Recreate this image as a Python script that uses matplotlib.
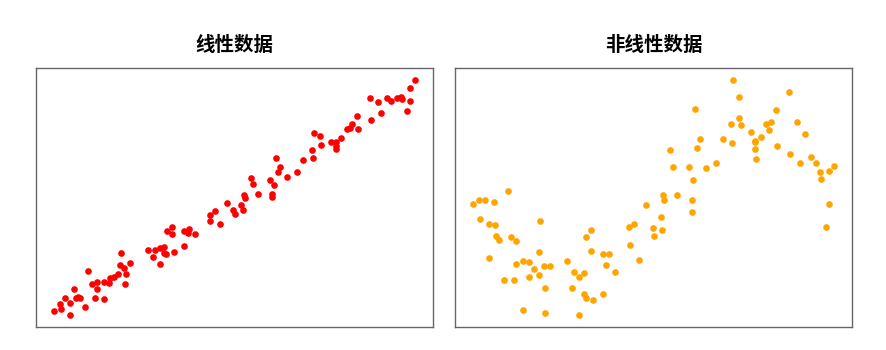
import matplotlib
matplotlib.use("Agg")
import matplotlib.pyplot as plt

plt.rcParams["font.family"] = ["Noto Sans CJK SC", "DejaVu Sans"]

# Linear data (red)
x_lin = [
    -0.02, 0.18, 0.15, 0.29, 0.42, 0.41, 0.54, 0.59, 0.65, 0.70,
    0.84, 0.93, 1.03, 1.16, 1.16, 1.10, 1.36, 1.36, 1.51, 1.53,
    1.64, 1.76, 1.81, 1.83, 1.92, 1.96, 1.95, 2.09, 2.58, 2.71,
    2.78, 2.90, 2.91, 3.03, 3.01, 3.08, 3.11, 3.24, 3.23, 3.30,
    3.56, 3.56, 3.68, 3.72, 3.89, 4.28, 4.42, 4.30, 4.57, 4.75,
    4.92, 4.98, 5.15, 5.20, 5.23, 5.27, 5.43, 5.49, 5.63, 5.95,
    6.06, 6.02, 6.02, 6.12, 6.24, 6.17, 6.42, 6.69, 6.87, 7.10,
    7.14, 7.17, 7.33, 7.35, 7.65, 7.77, 7.77, 7.79, 7.92, 8.09,
    8.16, 8.23, 8.36, 8.38, 8.72, 8.75, 8.95, 9.01, 9.18, 9.31,
    9.47, 9.58, 9.61, 9.81, 9.74, 9.81, 9.96,
]
y_lin = [
    1.01, 1.22, 1.65, 2.09, 0.64, 1.74, 2.90, 2.09, 2.23, 2.09,
    1.36, 4.46, 3.30, 3.54, 2.90, 2.17, 2.00, 3.54, 3.39, 3.88,
    3.97, 4.17, 4.99, 6.00, 4.70, 4.20, 3.30, 5.19, 6.29, 5.68,
    6.29, 6.43, 5.07, 6.58, 6.06, 5.91, 7.94, 8.29, 7.65, 6.12,
    6.64, 7.94, 7.71, 8.09, 7.68, 9.33, 9.62, 8.81, 8.52, 10.35,
    9.71, 9.39, 10.14, 9.71, 10.99, 10.78, 12.52, 12.00, 11.16, 12.32,
    11.88, 11.16, 10.84, 14.26, 13.45, 13.01, 12.61, 13.01, 14.06, 14.90,
    14.26, 16.43, 16.12, 15.36, 15.62, 15.65, 15.25, 14.99, 15.94, 16.72,
    16.78, 17.16, 17.88, 16.75, 19.45, 17.48, 19.10, 18.09, 19.45, 19.13,
    19.45, 19.54, 19.30, 19.13, 18.32, 20.26, 20.99,
]

# Nonlinear data (orange)
x_non = [
    -0.02, 0.15, 0.30, 0.55, 0.94, 0.18, 0.42, 0.58, 0.62, 0.70,
    1.04, 1.17, 0.42, 1.83, 1.79, 1.17, 1.37, 1.53, 1.66, 1.53,
    1.79, 1.93, 2.10, 0.84, 1.11, 1.96, 1.37, 1.96, 2.59, 2.78,
    2.92, 3.04, 2.71, 3.04, 3.11, 3.30, 2.91, 3.10, 3.24, 3.24,
    3.56, 3.73, 3.67, 3.90, 3.56, 4.28, 4.42, 4.32, 4.58, 4.75,
    4.95, 4.98, 5.18, 5.21, 5.24, 5.27, 5.44, 5.50, 5.63, 5.96,
    6.06, 6.03, 6.03, 6.12, 6.26, 6.16, 6.43, 6.69, 6.88, 7.14,
    7.11, 7.17, 7.34, 7.34, 7.38, 7.67, 7.79, 7.77, 7.77, 7.80,
    7.93, 8.09, 8.23, 8.16, 8.36, 8.39, 8.72, 8.95, 8.75, 9.02,
    9.17, 9.32, 9.47, 9.58, 9.61, 9.81, 9.96, 9.81, 9.73,
]
y_non = [
    -0.09, -0.04, -0.04, -0.06, 0.08, -0.27, -0.34, -0.35, -0.49, -0.53,
    -0.50, -0.55, -0.76, -0.30, -0.68, -0.83, -0.80, -0.81, -0.90, -0.99,
    -0.97, -0.86, -0.86, -1.03, -1.03, -1.13, -1.40, -1.44, -0.79, -0.93,
    -1.00, -0.95, -1.13, -1.20, -1.26, -1.28, -1.47, -0.50, -0.41, -0.67,
    -0.71, -0.71, -0.85, -0.93, -1.20, -0.37, -0.33, -0.59, -0.78, -0.10,
    -0.38, -0.49, -0.25, -0.41, 0.03, -0.04, 0.58, 0.38, 0.02, 0.38,
    0.21, -0.04, -0.18, 1.10, 0.72, 0.61, 0.36, 0.42, 0.72, 0.67,
    0.91, 1.46, 1.24, 0.99, 0.90, 0.81, 0.70, 0.68, 0.60, 0.48,
    0.75, 0.91, 0.93, 0.83, 1.08, 0.63, 1.31, 0.94, 0.54, 0.43,
    0.78, 0.50, 0.42, 0.31, 0.23, 0.33, 0.39, -0.09, -0.37,
]

fig = plt.figure(figsize=(8.87, 3.5), dpi=100)
ax1 = fig.add_axes([36 / 887, 23 / 350, 397 / 887, 259 / 350])
ax2 = fig.add_axes([455 / 887, 23 / 350, 397 / 887, 259 / 350])

panels = [
    (ax1, x_lin, y_lin, "red", "线性数据"),
    (ax2, x_non, y_non, "orange", "非线性数据"),
]
for ax, xs, ys, color, title in panels:
    ax.scatter(xs, ys, s=23, color=color, linewidths=0)
    ax.set_title(title, fontsize=14, fontweight="bold", pad=12)
    ax.set_xticks([])
    ax.set_yticks([])
    for spine in ax.spines.values():
        spine.set_color("#666666")
        spine.set_linewidth(1.0)

fig.savefig("out.png", dpi=100)
